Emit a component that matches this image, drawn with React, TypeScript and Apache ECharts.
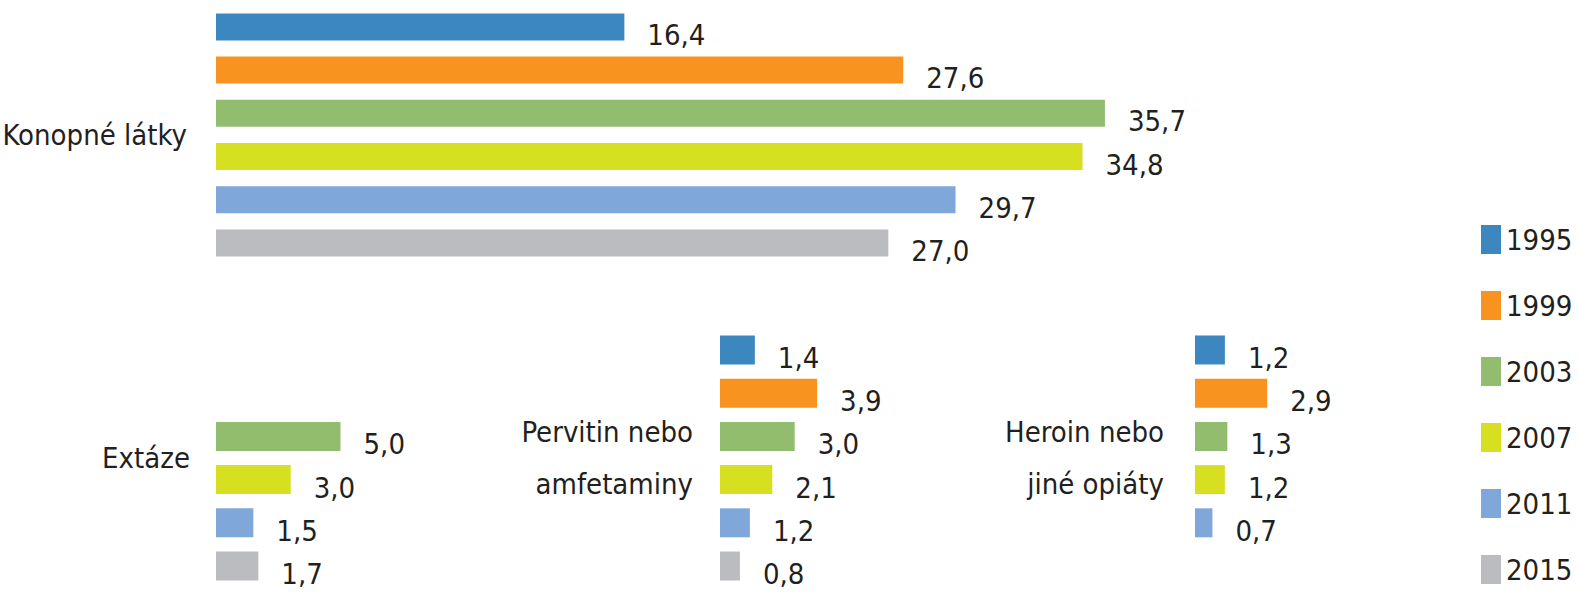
import React, { useEffect, useRef } from "react";
import * as echarts from "echarts";

const years = ["1995", "1999", "2003", "2007", "2011", "2015"];
const drugs = ["Konopné látky", "Extáze", "Pervitin nebo\namfetaminy", "Heroin nebo\njiné opiáty"];
const konopne: (number | null)[] = [16.4, 27.6, 35.7, 34.8, 29.7, 27.0];
const extaze: (number | null)[] = [null, null, 5.0, 3.0, 1.5, 1.7];
const pervitin: (number | null)[] = [1.4, 3.9, 3.0, 2.1, 1.2, 0.8];
const heroin: (number | null)[] = [1.2, 2.9, 1.3, 1.2, 0.7, null];
const groupValues = [konopne, extaze, pervitin, heroin];

const colors = ["#3d87c1", "#f7931e", "#92bd6e", "#d7df21", "#7fa7d9", "#bbbcbf"];
const FONT = "'DejaVu Sans Condensed', 'Roboto', sans-serif";
const FS = 29;
const TEXT = "#231f20";
const PX_PER_UNIT = 24.9;

export default function App() {
  const ref = useRef<HTMLDivElement>(null);
  useEffect(() => {
    if (!ref.current) return;
    const chart = echarts.init(ref.current, null, { renderer: "svg" });
    const layouts = [
      { left: 216, top: 5.4, height: 259, max: 40, barWidth: 27, barGap: "60%", margin: 29 },
      { left: 216, top: 328, height: 260, max: 10, barWidth: 29, barGap: "49%", margin: 26 },
      { left: 720, top: 328, height: 260, max: 10, barWidth: 29, barGap: "49%", margin: 27 },
      { left: 1195, top: 328, height: 260, max: 10, barWidth: 29, barGap: "49%", margin: 31 },
    ];
    const grid = layouts.map((l) => ({
      left: l.left,
      top: l.top,
      height: l.height,
      width: l.max * PX_PER_UNIT,
      containLabel: false,
      outerBoundsMode: "none",
    }));
    const xAxis = layouts.map((l, i) => ({
      type: "value",
      gridIndex: i,
      min: 0,
      max: l.max,
      show: false,
    }));
    const yAxis = layouts.map((l, i) => ({
      type: "category",
      gridIndex: i,
      data: [drugs[i]],
      inverse: true,
      axisLine: { show: false },
      axisTick: { show: false },
      splitLine: { show: false },
      axisLabel: {
        margin: l.margin,
        fontSize: FS,
        fontFamily: FONT,
        color: TEXT,
        lineHeight: 52,
        align: "right",
      },
    }));
    const series: any[] = [];
    groupValues.forEach((vals, gi) => {
      years.forEach((y, yi) => {
        const v = vals[yi];
        series.push({
          type: "bar",
          name: y,
          xAxisIndex: gi,
          yAxisIndex: gi,
          barWidth: layouts[gi].barWidth,
          barGap: layouts[gi].barGap,
          itemStyle: { color: colors[yi] },
          data: [v === null ? "-" : v],
          label: {
            show: true,
            position: "right",
            distance: 23,
            offset: [0, 8],
            fontSize: FS,
            fontFamily: FONT,
            color: TEXT,
            formatter: (p: any) => Number(p.value).toFixed(1).replace(".", ","),
          },
        });
      });
    });
    chart.setOption({
      animation: false,
      backgroundColor: "#ffffff",
      grid,
      xAxis,
      yAxis,
      legend: {
        data: years,
        orient: "vertical",
        left: 1481,
        top: 225,
        padding: 0,
        itemWidth: 20,
        itemHeight: 29,
        itemGap: 37,
        icon: "rect",
        selectedMode: false,
        textStyle: { fontSize: FS, fontFamily: FONT, color: TEXT, lineHeight: 29 },
      },
      series,
    });
    return () => chart.dispose();
  }, []);
  return (
    <div
      ref={ref}
      style={{ position: "absolute", left: 0, top: 0, width: 1579, height: 593 }}
    />
  );
}
